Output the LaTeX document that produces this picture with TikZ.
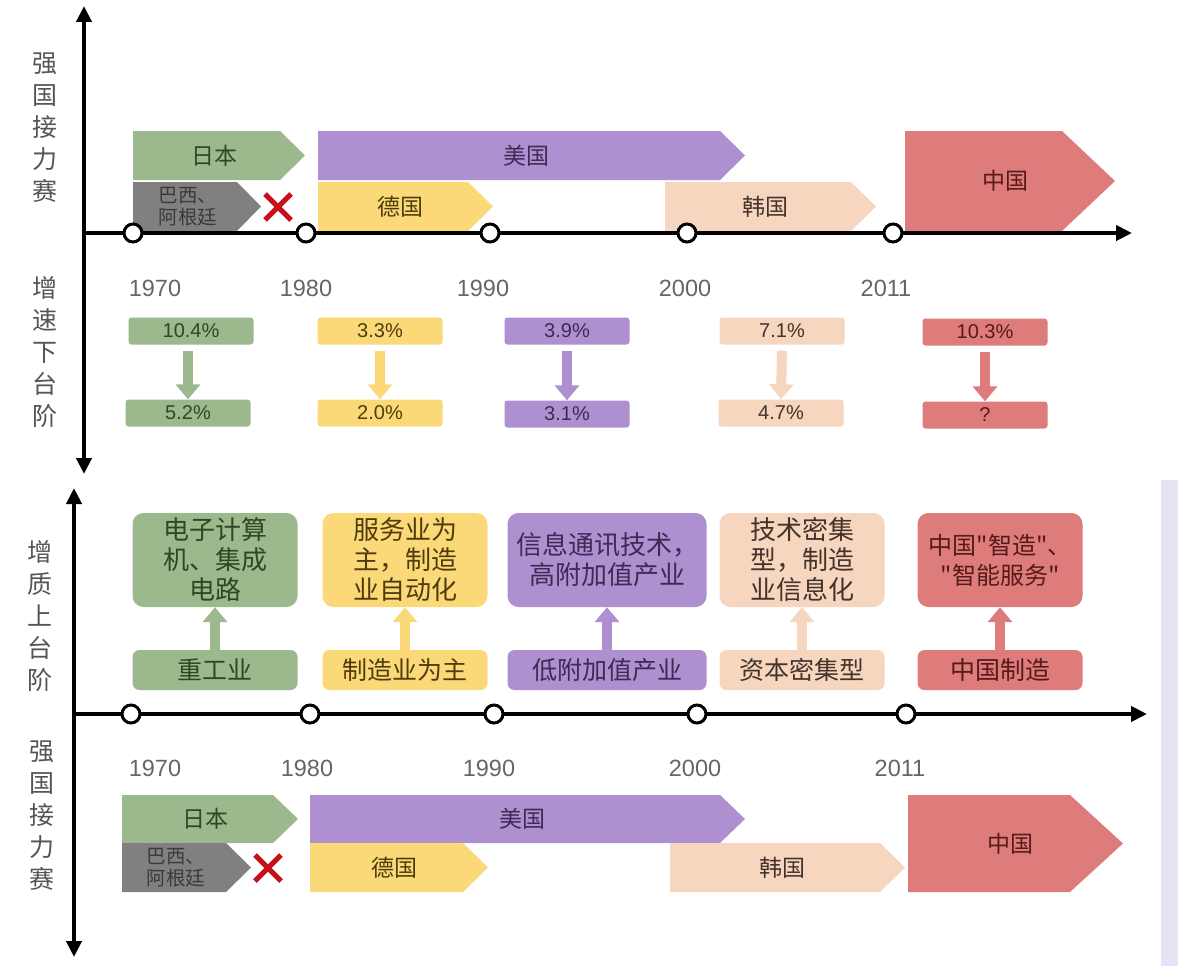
\documentclass[tikz,border=0pt]{standalone}
\usepackage{fontspec}
\setmainfont{Liberation Sans}
\newfontfamily\cjk{Noto Sans CJK SC}
\usetikzlibrary{arrows.meta}
\definecolor{gF}{HTML}{9CB88D}\definecolor{gT}{HTML}{2E4824}
\definecolor{kF}{HTML}{808080}\definecolor{kT}{HTML}{3A3A3A}
\definecolor{pF}{HTML}{AE8FCF}\definecolor{pT}{HTML}{3E2A56}
\definecolor{yF}{HTML}{FBD979}\definecolor{yT}{HTML}{4E3C0A}
\definecolor{sF}{HTML}{F7D6BF}\definecolor{sT}{HTML}{44332A}
\definecolor{rF}{HTML}{DE7B7B}\definecolor{rT}{HTML}{561A1A}
\definecolor{yearC}{HTML}{666666}
\definecolor{sideC}{HTML}{555555}
\definecolor{lav}{HTML}{E4E4F4}
\definecolor{xred}{HTML}{C8101A}
\newcommand{\pent}[9]{%
  \fill[#7] (#2,#3) -- (#4,#3) -- (#5,{(#3+#6)/2}) -- (#4,#6) -- (#2,#6) -- cycle;
  \node[text=#8, font=\cjk\fontsize{23}{23}\selectfont, align=center] (#1) at ({(#2+#5)/2-5},{(#3+#6)/2}) {#9};}
\begin{document}
\begin{tikzpicture}[x=1pt,y=-1pt,
  axis/.style={line width=4pt, black},
  axisarrow/.style={axis, -{Triangle[length=16pt,width=15pt]}},
  axisboth/.style={axis, {Triangle[length=16pt,width=15pt]}-{Triangle[length=16pt,width=15pt]}},
  tick/.style={circle, draw=black, line width=3pt, fill=white, minimum size=18pt, inner sep=0pt},
  year/.style={text=yearC, font=\fontsize{23.5}{23.5}\selectfont},
  side/.style={text=sideC, font=\cjk\fontsize{25}{32}\selectfont, align=center},
  rate/.style={rounded corners=3pt, minimum width=125pt, minimum height=27pt, inner sep=0pt, font=\fontsize{20}{20}\selectfont},
  tall/.style={rounded corners=11pt, minimum width=165pt, minimum height=94pt, inner sep=0pt, align=center, font=\cjk\fontsize{26}{30}\selectfont},
  short/.style={rounded corners=7pt, minimum width=165pt, minimum height=40pt, inner sep=0pt, font=\cjk\fontsize{25}{25}\selectfont},
  bra/.style={text=kT, font=\cjk\fontsize{19.5}{22}\selectfont, align=left},
  blockarrow/.style={line width=10pt, -{Triangle[length=15pt,width=24pt]}},
  cross/.style={xred, line width=5pt}
]
\useasboundingbox (0,0) rectangle (1178,966);
\fill[white] (0,0) rectangle (1178,966);
\fill[lav] (1161,480) rectangle (1178,966);

% ===== Top section: relay =====
\pent{jp1}{133}{131}{280}{305}{180}{gF}{gT}{日本}
\fill[kF] (133,182) -- (237,182) -- (261,206.5) -- (237,231) -- (133,231) -- cycle;
\node[bra] (bra1) at (188,207) {巴西、\\阿根廷};
\coordinate (x1) at (278,207);
\draw[cross] ([shift={(-13pt,-13pt)}]x1) -- ([shift={(13pt,13pt)}]x1);
\draw[cross] ([shift={(-13pt,13pt)}]x1) -- ([shift={(13pt,-13pt)}]x1);
\pent{us1}{318}{131}{720}{745}{180}{pF}{pT}{美国}
\pent{de1}{318}{182}{468}{493}{231}{yF}{yT}{德国}
\pent{kr1}{665}{182}{851}{876}{231}{sF}{sT}{韩国}
\pent{cn1}{905}{131}{1062}{1115}{231}{rF}{rT}{中国}

\coordinate (ax1s) at (84,233);
\coordinate (ax1e) at (1132,233);
\draw[axisarrow] (ax1s) -- (ax1e);
\coordinate (vA) at (84,6);
\coordinate (vB) at (84,474);
\draw[axisboth] (vB) -- (vA);
\node[tick] (t11) at (133,233) {};
\node[tick] (t12) at (306,233) {};
\node[tick] (t13) at (490,233) {};
\node[tick] (t14) at (687,233) {};
\node[tick] (t15) at (893,233) {};

\node[year] (y11) at (155,288) {1970};
\node[year] (y12) at (306,288) {1980};
\node[year] (y13) at (483,288) {1990};
\node[year] (y14) at (685,288) {2000};
\node[year] (y15) at (886,288) {2011};

\node[side] (s1) at (45,128) {强\\国\\接\\力\\赛};
\node[side] (s2) at (45,352) {增\\速\\下\\台\\阶};

% ===== Rates =====
\node[rate, fill=gF, text=gT] (r1a) at (191,331) {10.4\%};
\node[rate, fill=gF, text=gT] (r1b) at (188,413) {5.2\%};
\node[rate, fill=yF, text=yT] (r2a) at (380,331) {3.3\%};
\node[rate, fill=yF, text=yT] (r2b) at (380,413) {2.0\%};
\node[rate, fill=pF, text=pT] (r3a) at (567,331) {3.9\%};
\node[rate, fill=pF, text=pT] (r3b) at (567,414) {3.1\%};
\node[rate, fill=sF, text=sT] (r4a) at (782,331) {7.1\%};
\node[rate, fill=sF, text=sT] (r4b) at (781,413) {4.7\%};
\node[rate, fill=rF, text=rT] (r5a) at (985,332) {10.3\%};
\node[rate, fill=rF, text=rT] (r5b) at (985,415) {?};
\draw[blockarrow, gF] ([yshift=-6pt]r1a.south -| r1b.north) -- (r1b.north);
\draw[blockarrow, yF] ([yshift=-6pt]r2a.south) -- (r2b.north);
\draw[blockarrow, pF] ([yshift=-6pt]r3a.south) -- (r3b.north);
\draw[blockarrow, sF] ([yshift=-6pt]r4a.south) -- (r4b.north);
\draw[blockarrow, rF] ([yshift=-6pt]r5a.south) -- (r5b.north);

% ===== Lower section: quality =====
\node[tall, fill=gF, text=gT] (q1a) at (215,560) {电子计算\\机、集成\\电路};
\node[tall, fill=yF, text=yT] (q2a) at (405,560) {服务业为\\主，制造\\业自动化};
\node[tall, fill=pF, text=pT, minimum width=199pt] (q3a) at (607,560) {信息通讯技术，\\高附加值产业};
\node[tall, fill=sF, text=sT] (q4a) at (802,560) {技术密集\\型，制造\\业信息化};
\node[tall, fill=rF, text=rT, font=\cjk\fontsize{24}{30}\selectfont] (q5a) at (1000,560) {中国"智造"、\\"智能服务"};
\node[short, fill=gF, text=gT] (q1b) at (215,670) {重工业};
\node[short, fill=yF, text=yT] (q2b) at (405,670) {制造业为主};
\node[short, fill=pF, text=pT, minimum width=199pt] (q3b) at (607,670) {低附加值产业};
\node[short, fill=sF, text=sT] (q4b) at (802,670) {资本密集型};
\node[short, fill=rF, text=rT] (q5b) at (1000,670) {中国制造};
\draw[blockarrow, gF] (q1b.north) -- (q1a.south);
\draw[blockarrow, yF] (q2b.north) -- (q2a.south);
\draw[blockarrow, pF] (q3b.north) -- (q3a.south);
\draw[blockarrow, sF] (q4b.north) -- (q4a.south);
\draw[blockarrow, rF] (q5b.north) -- (q5a.south);

\coordinate (ax2s) at (74,714);
\coordinate (ax2e) at (1147,714);
\draw[axisarrow] (ax2s) -- (ax2e);
\coordinate (vC) at (74,488);
\coordinate (vD) at (74,957);
\draw[axisboth] (vD) -- (vC);
\node[tick] (t21) at (131,714) {};
\node[tick] (t22) at (310,714) {};
\node[tick] (t23) at (494,714) {};
\node[tick] (t24) at (697,714) {};
\node[tick] (t25) at (906,714) {};

\node[year] (y21) at (155,768) {1970};
\node[year] (y22) at (307,768) {1980};
\node[year] (y23) at (489,768) {1990};
\node[year] (y24) at (695,768) {2000};
\node[year] (y25) at (900,768) {2011};

\node[side] (s3) at (40,616) {增\\质\\上\\台\\阶};
\node[side] (s4) at (42,816) {强\\国\\接\\力\\赛};

% ===== Bottom relay =====
\pent{jp2}{122}{795}{273}{298}{843}{gF}{gT}{日本}
\fill[kF] (122,843) -- (226,843) -- (251,867.5) -- (226,892) -- (122,892) -- cycle;
\node[bra] (bra2) at (176,868) {巴西、\\阿根廷};
\coordinate (x2) at (268,868);
\draw[cross] ([shift={(-13pt,-13pt)}]x2) -- ([shift={(13pt,13pt)}]x2);
\draw[cross] ([shift={(-13pt,13pt)}]x2) -- ([shift={(13pt,-13pt)}]x2);
\pent{us2}{310}{795}{720}{745}{843}{pF}{pT}{美国}
\pent{de2}{310}{843}{463}{488}{892}{yF}{yT}{德国}
\pent{kr2}{670}{843}{880}{905}{892}{sF}{sT}{韩国}
\pent{cn2}{908}{795}{1070}{1123}{892}{rF}{rT}{中国}
\end{tikzpicture}
\end{document}
